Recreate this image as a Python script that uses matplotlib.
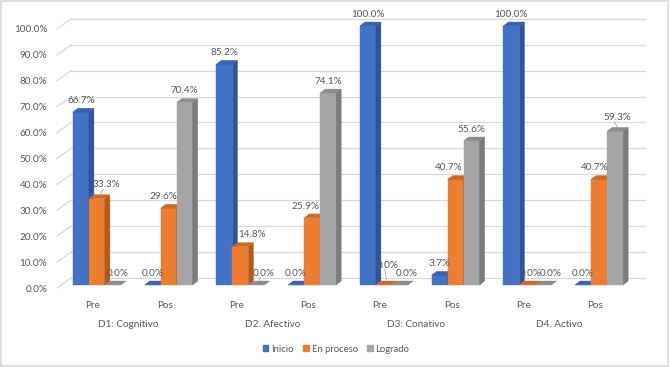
import numpy as np
import matplotlib.pyplot as plt
from matplotlib.patches import Polygon, Rectangle

plt.rcParams['font.family'] = ['Lato', 'DejaVu Sans']

# Data (percent)
dimensions = ['D1: Cognitivo', 'D2. Afectivo', 'D3: Conativo', 'D4. Activo']
moments = ['Pre', 'Pos'] * 4
series = ['Inicio', 'En proceso', 'Logrado']
inicio = [66.7, 0.0, 85.2, 0.0, 100.0, 3.7, 100.0, 0.0]
en_proceso = [33.3, 29.6, 14.8, 25.9, 0.0, 40.7, 0.0, 40.7]
logrado = [0.0, 70.4, 0.0, 74.1, 0.0, 55.6, 0.0, 59.3]
values = [inicio, en_proceso, logrado]

# label nudges (pixels) like excel's auto placement
label_dx = [[0] * 8,
            [10, -5, 12, -7, 4, -7, 3, -4],
            [5, 0, 7, 0, 7, 0, 7, 2]]
label_dy = [[0] * 8,
            [2, 0, 0, 0, 8, 0, 0, 0],
            [0, 0, 0, 0, 0, 0, 0, 2]]
leaders = [(1, 0), (1, 4), (2, 2), (2, 7)]

front_col = ['#4472C4', '#ED7D31', '#A5A5A5']
side_col = ['#2F5597', '#B25B1E', '#7B7B7B']
top_col = ['#3A62AE', '#CB6A26', '#8C8C8C']
text_col = '#595959'

# pseudo 3d geometry (data units: 1 slot per category, y in %)
wall_dx, wall_dy = 0.195, 3.9
bar_w = 0.223
bar_dx, bar_dy = 0.07, 1.5
off_x, off_y = 0.056, 1.2
px_x, px_y = 1 / 71.75, 1 / 2.59

fig = plt.figure(figsize=(6.7, 3.67), dpi=100)
ax = fig.add_axes([57 / 670, (367 - 288) / 367, 574 / 670, 259 / 367])
ax.set_xlim(0, 8)
ax.set_ylim(0, 100)
for s in ax.spines.values():
    s.set_visible(False)

# back wall gridlines + slanted side lines
for v in range(0, 101, 10):
    ax.plot([wall_dx, 8 + wall_dx], [v + wall_dy, v + wall_dy], color='#D9D9D9',
            lw=0.9, clip_on=False, zorder=0)
    ax.plot([0, wall_dx], [v, v + wall_dy], color='#D9D9D9', lw=0.9,
            clip_on=False, zorder=0)


def draw_bar(x0, h, ci, z):
    x1 = x0 + bar_w
    y0, y1 = off_y, off_y + h
    faces = [
        ([(x0, y0), (x1, y0), (x1, y1), (x0, y1)], front_col[ci]),
        ([(x1, y0), (x1 + bar_dx, y0 + bar_dy), (x1 + bar_dx, y1 + bar_dy), (x1, y1)], side_col[ci]),
        ([(x0, y1), (x1, y1), (x1 + bar_dx, y1 + bar_dy), (x0 + bar_dx, y1 + bar_dy)], top_col[ci]),
    ]
    for pts, c in faces:
        ax.add_patch(Polygon(pts, closed=True, fc=c, ec=c, lw=0.3, zorder=z, clip_on=False))


z = 2
for i in range(len(moments)):
    center = i + 0.5 + off_x
    for ci in range(3):
        x0 = center + (ci - 1.5) * bar_w
        h = values[ci][i]
        draw_bar(x0, h, ci, z)
        z += 1
        lx = x0 + bar_w / 2 + label_dx[ci][i] * px_x
        ly = h + 5.7 + label_dy[ci][i] * px_y
        ax.text(lx, ly, f'{h:.1f}%', ha='center', va='center',
                fontsize=7.2, color=text_col, zorder=100, clip_on=False)
        if (ci, i) in leaders:
            ax.plot([x0 + bar_w / 2 + bar_dx / 2, lx - 3 * px_x],
                    [h + off_y + bar_dy, ly - 4 * px_y],
                    color='#A6A6A6', lw=0.6, zorder=99, clip_on=False)

ax.set_yticks(range(0, 101, 10))
ax.set_yticklabels([f'{v:.1f}%' for v in range(0, 101, 10)])
ax.set_xticks(np.arange(8) + 0.5)
ax.set_xticklabels(moments)
ax.tick_params(axis='both', length=0, labelsize=7.2, labelcolor=text_col)
ax.tick_params(axis='y', pad=7)
ax.tick_params(axis='x', pad=9)

for k, d in enumerate(dimensions):
    ax.text(1 + 2 * k, -13.9, d, ha='center', va='center', fontsize=7.2,
            color=text_col, clip_on=False)

handles = [Rectangle((0, 0), 1, 1, fc=c, ec=c) for c in front_col]
fig.legend(handles, series, loc='center', bbox_to_anchor=(336 / 670, 1 - 349 / 367),
           ncol=3, frameon=False, fontsize=6.8, handlelength=0.6, handleheight=0.6,
           handletextpad=0.3, columnspacing=1.0, labelcolor=text_col)

fig.add_artist(Rectangle((0.002, 0.003), 0.995, 0.994, transform=fig.transFigure,
                         fill=False, ec='#D9D9D9', lw=1.2))

fig.savefig('out.png', dpi=100)
